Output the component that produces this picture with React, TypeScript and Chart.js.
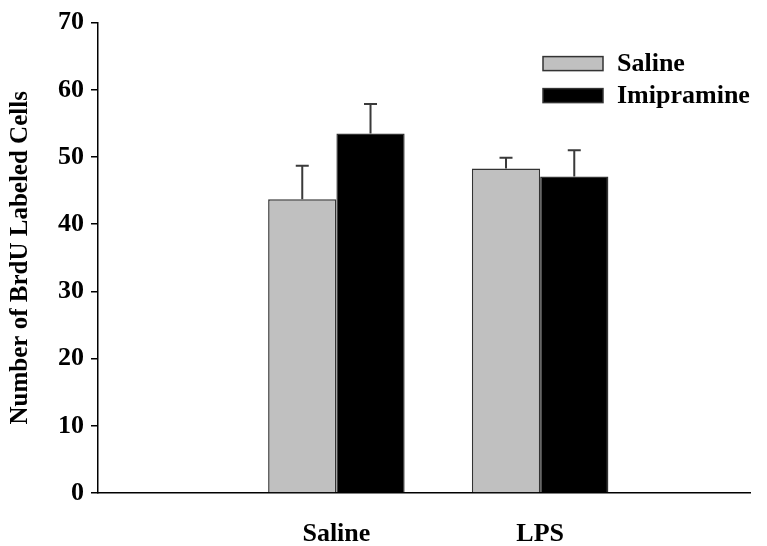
import React, { useEffect, useRef } from "react";
import { Chart, registerables } from "chart.js";

Chart.register(...registerables);

const categories = ["Saline", "LPS"];
const seriesNames = ["Saline", "Imipramine"];
const salineValues = [43.7, 48.3];
const salineErrors = [5.0, 1.6];
const imipramineValues = [53.5, 47.1];
const imipramineErrors = [4.4, 3.9];
const yTicks = [0, 10, 20, 30, 40, 50, 60, 70];
const yTitle = "Number of BrdU Labeled Cells";

const FONT = "'Liberation Serif', 'Times New Roman', serif";

const errorBarPlugin = {
  id: "errorBars",
  afterDatasetsDraw(chart: any) {
    const ctx = chart.ctx;
    const yScale = chart.scales.y;
    chart.data.datasets.forEach((ds: any, di: number) => {
      const meta = chart.getDatasetMeta(di);
      meta.data.forEach((bar: any, i: number) => {
        const v = ds.data[i].y;
        const e = ds.errors[i];
        const top = yScale.getPixelForValue(v + e);
        const base = yScale.getPixelForValue(v);
        ctx.save();
        ctx.strokeStyle = "#3a3a3a";
        ctx.lineWidth = 2;
        ctx.beginPath();
        ctx.moveTo(bar.x, base);
        ctx.lineTo(bar.x, top);
        ctx.moveTo(bar.x - 6.5, top);
        ctx.lineTo(bar.x + 6.5, top);
        ctx.stroke();
        ctx.restore();
      });
    });
  },
};

const legendPlugin = {
  id: "insideLegend",
  afterDraw(chart: any) {
    const ctx = chart.ctx;
    const area = chart.chartArea;
    const x0 = area.right - 207;
    const rows = [area.top + 34, area.top + 66];
    ctx.save();
    chart.data.datasets.forEach((ds: any, i: number) => {
      const y = rows[i];
      ctx.fillStyle = ds.backgroundColor;
      ctx.fillRect(x0, y, 60, 14);
      ctx.strokeStyle = "#333333";
      ctx.lineWidth = 1.5;
      ctx.strokeRect(x0, y, 60, 14);
      ctx.fillStyle = "#000";
      ctx.font = `bold 26px ${FONT}`;
      ctx.textBaseline = "middle";
      ctx.textAlign = "left";
      ctx.fillText(ds.label, x0 + 74, y + 8);
    });
    ctx.restore();
  },
};

export default function App() {
  const ref = useRef<HTMLCanvasElement | null>(null);
  useEffect(() => {
    if (!ref.current) return;
    const mk = (vals: number[]) => vals.map((v, i) => ({ x: i, y: v }));
    const chart = new Chart(ref.current, {
      type: "bar",
      data: {
        datasets: [
          {
            label: seriesNames[0],
            data: mk(salineValues),
            errors: salineErrors,
            backgroundColor: "#c0c0c0",
            borderColor: "#333333",
            borderWidth: 1.5,
            categoryPercentage: 0.67,
            barPercentage: 1,
          } as any,
          {
            label: seriesNames[1],
            data: mk(imipramineValues),
            errors: imipramineErrors,
            backgroundColor: "#000000",
            borderColor: "#333333",
            borderWidth: 1.5,
            categoryPercentage: 0.67,
            barPercentage: 1,
          } as any,
        ],
      },
      options: {
        animation: false,
        responsive: false,
        devicePixelRatio: 1,
        layout: { padding: { left: 0, top: 17, right: 17, bottom: 0 } },
        plugins: { legend: { display: false }, tooltip: { enabled: false } },
        scales: {
          x: {
            type: "linear",
            offset: false,
            min: -1.17,
            max: 2.03,
            grid: { display: false, offset: false },
            border: { display: true, color: "#000", width: 1.5 },
            afterBuildTicks: (s: any) => {
              s.ticks = categories.map((_, i) => ({ value: i }));
            },
            afterFit: (s: any) => {
              s.height = 53;
            },
            ticks: {
              autoSkip: false,
              maxRotation: 0,
              padding: 18,
              color: "#000",
              font: { family: FONT, size: 26, weight: "bold" },
              callback: (v: any) => categories[v] ?? "",
            },
          },
          y: {
            min: 0,
            max: 70,
            afterBuildTicks: (s: any) => {
              s.ticks = yTicks.map((v) => ({ value: v }));
            },
            afterFit: (s: any) => {
              s.width = 98;
            },
            grid: {
              display: true,
              drawOnChartArea: false,
              drawTicks: true,
              tickLength: 7,
              color: "#000",
              lineWidth: 1.5,
            },
            border: { display: true, color: "#000", width: 1.5 },
            ticks: {
              padding: 7,
              color: "#000",
              font: { family: FONT, size: 26, weight: "bold" },
            },
            title: {
              display: true,
              text: yTitle,
              color: "#000",
              padding: { top: 6, bottom: 0 },
              font: { family: FONT, size: 25, weight: "bold" },
            },
          },
        },
      },
      plugins: [errorBarPlugin, legendPlugin],
    });
    return () => chart.destroy();
  }, []);
  return (
    <div style={{ position: "absolute", left: 0, top: 0, width: 767, height: 546, background: "#fff" }}>
      <canvas ref={ref} width={767} height={546} />
    </div>
  );
}
